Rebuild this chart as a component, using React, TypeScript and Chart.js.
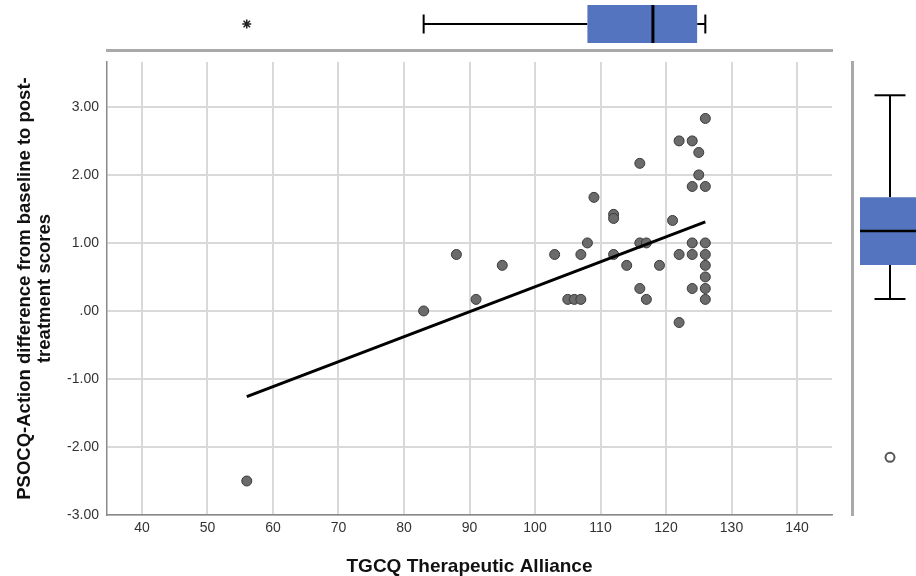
import React, { useEffect, useRef } from 'react';
import { Chart, registerables } from 'chart.js';

Chart.register(...registerables);

// ---- Data ----
const alliance = [126, 122, 124, 125, 116, 125, 124, 126, 109, 112, 112, 121, 108, 116, 117, 124, 126, 88, 103, 107, 112, 122, 124, 126, 95, 114, 119, 126, 126, 116, 124, 126, 91, 105, 106, 107, 117, 126, 83, 122, 56];
const psocqDiff = [2.83, 2.5, 2.5, 2.33, 2.17, 2.0, 1.83, 1.83, 1.67, 1.42, 1.36, 1.33, 1.0, 1.0, 1.0, 1.0, 1.0, 0.83, 0.83, 0.83, 0.83, 0.83, 0.83, 0.83, 0.67, 0.67, 0.67, 0.67, 0.5, 0.33, 0.33, 0.33, 0.17, 0.17, 0.17, 0.17, 0.17, 0.17, 0.0, -0.17, -2.5];

const fitX = [56, 126];
const fitY = [-1.26, 1.31];

const xTicks = [40, 50, 60, 70, 80, 90, 100, 110, 120, 130, 140];
const yTicks = [-3, -2, -1, 0, 1, 2, 3];
const yTickLabels = ['-3.00', '-2.00', '-1.00', '.00', '1.00', '2.00', '3.00'];

// boxplot stats: [lower whisker, Q1, median, Q3, upper whisker]
const allianceBox = [83, 108, 118, 124.75, 126];
const allianceOutliers = [56];
const psocqBox = [-0.17, 0.33, 0.83, 1.33, 2.83];
const psocqOutliers = [-2.5];

const xTitle = 'TGCQ Therapeutic Alliance';
const yTitle = ['PSOCQ-Action difference from baseline to post-', 'treatment scores'];

// ---- Styles ----
const FONT = "'Liberation Sans', Arial, Helvetica, sans-serif";
const BLUE = '#5574BF';
const W = 960;
const H = 576;
const X_MIN = 34.66;
const X_MAX = 145.34;

Chart.defaults.font.family = FONT;

export default function App() {
  const mainRef = useRef<HTMLCanvasElement>(null);
  const topRef = useRef<HTMLCanvasElement>(null);
  const rightRef = useRef<HTMLCanvasElement>(null);

  useEffect(() => {
    const common: any = {
      responsive: false,
      animation: false,
      devicePixelRatio: 1,
      events: [],
      plugins: { legend: { display: false }, tooltip: { enabled: false } },
    };

    const main = new Chart(mainRef.current!, {
      type: 'scatter',
      data: {
        datasets: [
          {
            data: fitX.map((x, i) => ({ x, y: fitY[i] })),
            showLine: true,
            borderColor: '#000',
            borderWidth: 3,
            pointRadius: 0,
          } as any,
          {
            data: alliance.map((x, i) => ({ x, y: psocqDiff[i] })),
            pointRadius: 5,
            pointBackgroundColor: '#6b6b6b',
            pointBorderColor: '#3a3a3a',
            pointBorderWidth: 1,
          } as any,
        ],
      },
      options: {
        ...common,
        layout: { autoPadding: false, padding: { left: 0, top: 62, right: W - 832, bottom: 0 } },
        scales: {
          x: {
            type: 'linear',
            min: X_MIN,
            max: X_MAX,
            afterBuildTicks: (s: any) => { s.ticks = xTicks.map((v) => ({ value: v })); },
            afterFit: (s: any) => { s.height = H - 515; },
            ticks: { color: '#333', font: { size: 14 }, padding: 5, callback: (v: any) => String(v) },
            grid: { color: '#d9d9d9', lineWidth: 2, drawTicks: false },
            border: { color: '#8a8a8a', width: 1.5 },
            title: {
              display: true,
              text: xTitle,
              color: '#111',
              font: { size: 19, weight: 'bold', lineHeight: 0.9 },
              padding: { top: 0, bottom: 0.5 },
            },
          },
          y: {
            type: 'linear',
            min: -3,
            max: 3.66,
            afterBuildTicks: (s: any) => { s.ticks = yTicks.map((v) => ({ value: v })); },
            afterFit: (s: any) => { s.width = 107; },
            ticks: {
              color: '#333',
              font: { size: 14 },
              padding: 8,
              callback: (v: any) => yTickLabels[yTicks.indexOf(Number(v))] ?? String(v),
            },
            grid: { color: '#d9d9d9', lineWidth: 2, drawTicks: false },
            border: { color: '#8a8a8a', width: 1.5 },
            title: {
              display: true,
              text: yTitle,
              color: '#111',
              font: { size: 18.5, weight: 'bold', lineHeight: 1.08 },
              padding: { top: 15, bottom: 0 },
            },
          },
        },
      } as any,
    });

    const top = new Chart(topRef.current!, {
      type: 'scatter',
      data: {
        datasets: [
          {
            data: [{ x: allianceBox[2], y: 0 }],
            pointStyle: 'line', pointRotation: 90, pointRadius: 19,
            pointBorderColor: '#000', pointBorderWidth: 3, clip: false,
          } as any,
          {
            data: [{ x: allianceBox[0], y: 0 }, { x: allianceBox[4], y: 0 }],
            pointStyle: 'line', pointRotation: 90, pointRadius: 9.5,
            pointBorderColor: '#000', pointBorderWidth: 2, clip: false,
          } as any,
          {
            data: [{ x: allianceBox[1], y: 0 }, { x: allianceBox[3], y: 0 }],
            showLine: true, borderColor: BLUE, borderWidth: 38, borderCapStyle: 'butt',
            pointRadius: 0, clip: false,
          } as any,
          {
            data: [{ x: allianceBox[0], y: 0 }, { x: allianceBox[1], y: 0 }],
            showLine: true, borderColor: '#000', borderWidth: 2, pointRadius: 0, clip: false,
          } as any,
          {
            data: [{ x: allianceBox[3], y: 0 }, { x: allianceBox[4], y: 0 }],
            showLine: true, borderColor: '#000', borderWidth: 2, pointRadius: 0, clip: false,
          } as any,
          {
            data: allianceOutliers.map((x) => ({ x, y: 0 })),
            pointStyle: 'star', pointRadius: 4.5,
            pointBorderColor: '#222', pointBorderWidth: 1.5, clip: false,
          } as any,
        ],
      },
      options: {
        ...common,
        layout: { autoPadding: false, padding: { left: 107, top: 0, right: W - 832, bottom: H - 50 } },
        scales: {
          x: {
            type: 'linear', min: X_MIN, max: X_MAX,
            afterFit: (s: any) => { s.height = 0; },
            ticks: { display: false },
            grid: { color: 'rgba(0,0,0,0)', drawTicks: false },
            border: { color: '#a9a9a9', width: 3 },
          },
          y: { type: 'linear', min: -1.04, max: 0.96, display: false },
        },
      } as any,
    });

    const right = new Chart(rightRef.current!, {
      type: 'scatter',
      data: {
        datasets: [
          {
            data: [{ x: 0, y: psocqBox[2] }],
            pointStyle: 'line', pointRotation: 0, pointRadius: 30,
            pointBorderColor: '#000', pointBorderWidth: 2.5, clip: false,
          } as any,
          {
            data: [{ x: 0, y: psocqBox[0] }, { x: 0, y: psocqBox[4] }],
            pointStyle: 'line', pointRotation: 0, pointRadius: 15.5,
            pointBorderColor: '#000', pointBorderWidth: 2, clip: false,
          } as any,
          {
            data: [{ x: 0, y: psocqBox[1] }, { x: 0, y: psocqBox[3] }],
            showLine: true, borderColor: BLUE, borderWidth: 60, borderCapStyle: 'butt',
            pointRadius: 0, clip: false,
          } as any,
          {
            data: [{ x: 0, y: psocqBox[0] }, { x: 0, y: psocqBox[1] }],
            showLine: true, borderColor: '#000', borderWidth: 2, pointRadius: 0, clip: false,
          } as any,
          {
            data: [{ x: 0, y: psocqBox[3] }, { x: 0, y: psocqBox[4] }],
            showLine: true, borderColor: '#000', borderWidth: 2, pointRadius: 0, clip: false,
          } as any,
          {
            data: psocqOutliers.map((y) => ({ x: 0, y })),
            pointStyle: 'circle', pointRadius: 4.5,
            pointBackgroundColor: '#fff', pointBorderColor: '#555', pointBorderWidth: 2, clip: false,
          } as any,
        ],
      },
      options: {
        ...common,
        layout: { autoPadding: false, padding: { left: 852, top: 62, right: W - 928, bottom: H - 515 } },
        scales: {
          x: { type: 'linear', min: -1, max: 1, display: false },
          y: {
            type: 'linear', min: -3.35, max: 3.32, position: 'left',
            afterFit: (s: any) => { s.width = 0; },
            ticks: { display: false },
            grid: { color: 'rgba(0,0,0,0)', drawTicks: false },
            border: { color: '#a9a9a9', width: 3 },
          },
        },
      } as any,
    });

    return () => {
      main.destroy();
      top.destroy();
      right.destroy();
    };
  }, []);

  const cv: React.CSSProperties = { position: 'absolute', left: 0, top: 0, width: W, height: H };

  return (
    <div style={{ position: 'fixed', left: 0, top: 0, width: 916, height: 576, overflow: 'hidden', background: '#fff' }}>
      <canvas ref={mainRef} width={W} height={H} style={cv} />
      <canvas ref={topRef} width={W} height={H} style={cv} />
      <canvas ref={rightRef} width={W} height={H} style={cv} />
    </div>
  );
}
